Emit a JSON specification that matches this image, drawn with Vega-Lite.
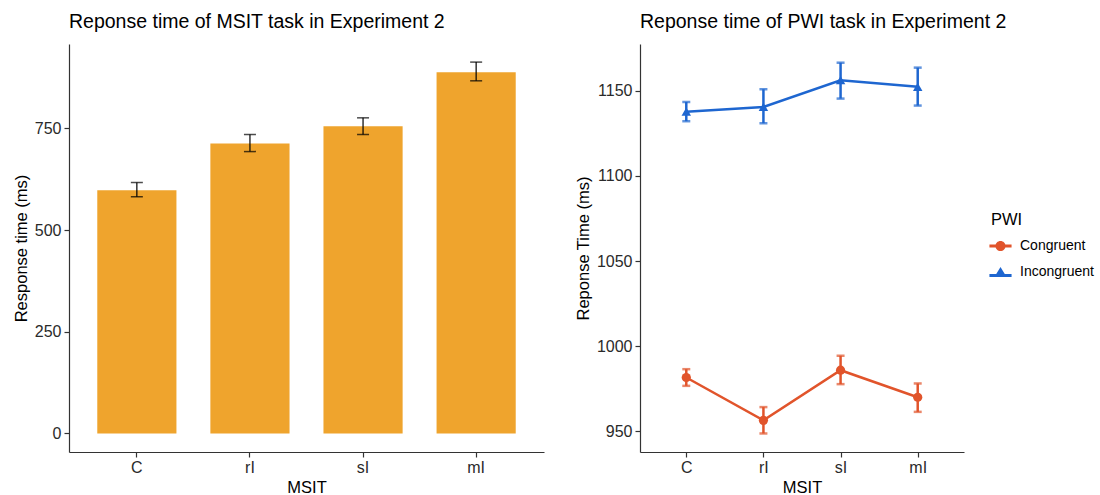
{
  "$schema": "https://vega.github.io/schema/vega-lite/v6.json",
  "padding": {"left": 13, "top": 11, "right": 5, "bottom": 2},
  "spacing": 31,
  "config": {
    "font": "Liberation Sans",
    "view": {"stroke": null},
    "title": {"fontSize": 19.5, "fontWeight": "normal", "anchor": "start", "frame": "group", "color": "black", "offset": 12},
    "axis": {"grid": false, "domainColor": "#333", "domainWidth": 1.2, "tickColor": "#333", "tickSize": 5, "tickWidth": 1.2, "labelFontSize": 16, "labelColor": "#2a2a2a", "titleFontSize": 16.5, "titleFontWeight": "normal", "titleColor": "black", "labelPadding": 3, "titlePadding": 5},
    "axisX": {"labelAngle": 0, "titlePadding": 4, "labelPadding": 2},
    "legend": {"titleFontSize": 16.5, "titleFontWeight": "normal", "titleColor": "black", "labelFontSize": 14, "labelColor": "black", "symbolSize": 340, "symbolOpacity": 1, "symbolStrokeWidth": 0, "rowPadding": 9, "titlePadding": 8, "labelOffset": 10}
  },
  "datasets": {
    "msit": [
      {"MSIT": "C", "rt": 598, "lo": 582, "hi": 617},
      {"MSIT": "rI", "rt": 713, "lo": 693, "hi": 735},
      {"MSIT": "sI", "rt": 755, "lo": 735, "hi": 776},
      {"MSIT": "mI", "rt": 888, "lo": 867, "hi": 913}
    ],
    "pwi": [
      {"MSIT": "C", "PWI": "Congruent", "rt": 981.5, "lo": 976.6, "hi": 986.4},
      {"MSIT": "rI", "PWI": "Congruent", "rt": 956.3, "lo": 948.6, "hi": 964.1},
      {"MSIT": "sI", "PWI": "Congruent", "rt": 985.8, "lo": 977.6, "hi": 994.3},
      {"MSIT": "mI", "PWI": "Congruent", "rt": 969.9, "lo": 961.3, "hi": 978.0},
      {"MSIT": "C", "PWI": "Incongruent", "rt": 1137.8, "lo": 1132.2, "hi": 1143.5},
      {"MSIT": "rI", "PWI": "Incongruent", "rt": 1140.6, "lo": 1131.0, "hi": 1151.0},
      {"MSIT": "sI", "PWI": "Incongruent", "rt": 1156.3, "lo": 1145.5, "hi": 1166.6},
      {"MSIT": "mI", "PWI": "Incongruent", "rt": 1152.4, "lo": 1141.4, "hi": 1163.7}
    ]
  },
  "hconcat": [
    {
      "width": 475,
      "height": 408,
      "title": {"text": "Reponse time of MSIT task in Experiment 2"},
      "data": {"name": "msit"},
      "encoding": {
        "x": {"field": "MSIT", "type": "nominal", "sort": ["C", "rI", "sI", "mI"], "scale": {"paddingInner": 0.3, "paddingOuter": 0.25}, "axis": {"title": "MSIT"}}
      },
      "layer": [
        {
          "mark": {"type": "bar", "color": "#EFA42D"},
          "encoding": {
            "y": {"field": "rt", "type": "quantitative", "scale": {"domain": [-45.5, 957.5], "nice": false, "zero": false}, "axis": {"values": [0, 250, 500, 750], "format": "d", "title": "Response time (ms)"}},
            "y2": {"datum": 0}
          }
        },
        {
          "mark": {"type": "rule", "color": "black", "strokeWidth": 1.2},
          "encoding": {"y": {"field": "lo", "type": "quantitative"}, "y2": {"field": "hi"}}
        },
        {
          "mark": {"type": "tick", "color": "black", "thickness": 1.5, "size": 12},
          "encoding": {"y": {"field": "lo", "type": "quantitative"}}
        },
        {
          "mark": {"type": "tick", "color": "black", "thickness": 1.5, "size": 12},
          "encoding": {"y": {"field": "hi", "type": "quantitative"}}
        }
      ]
    },
    {
      "width": 324,
      "height": 408,
      "title": {"text": "Reponse time of PWI task in Experiment 2"},
      "data": {"name": "pwi"},
      "encoding": {
        "x": {"field": "MSIT", "type": "ordinal", "sort": ["C", "rI", "sI", "mI"], "scale": {"type": "point", "padding": 0.6}, "axis": {"title": "MSIT"}},
        "color": {"field": "PWI", "type": "nominal", "scale": {"domain": ["Congruent", "Incongruent"], "range": ["#E1542B", "#1E66D0"]},
          "legend": {"title": "PWI", "orient": "none", "legendX": 922, "legendY": 168}}
      },
      "layer": [
        {
          "mark": {"type": "line", "strokeWidth": 2.5},
          "encoding": {
            "y": {"field": "rt", "type": "quantitative", "scale": {"domain": [937.7, 1177.6], "nice": false, "zero": false}, "axis": {"values": [950, 1000, 1050, 1100, 1150], "format": "d", "title": "Reponse Time (ms)"}}
          }
        },
        {
          "mark": {"type": "rule", "strokeWidth": 2.5},
          "encoding": {"y": {"field": "lo", "type": "quantitative"}, "y2": {"field": "hi"}}
        },
        {
          "mark": {"type": "tick", "thickness": 2.5, "size": 8},
          "encoding": {"y": {"field": "lo", "type": "quantitative"}}
        },
        {
          "mark": {"type": "tick", "thickness": 2.5, "size": 8},
          "encoding": {"y": {"field": "hi", "type": "quantitative"}}
        },
        {
          "transform": [{"filter": "datum.PWI === 'Congruent'"}],
          "mark": {"type": "point", "shape": "circle", "filled": true, "opacity": 1, "size": 85},
          "encoding": {"y": {"field": "rt", "type": "quantitative"}}
        },
        {
          "transform": [{"filter": "datum.PWI === 'Incongruent'"}],
          "mark": {"type": "point", "shape": "triangle-up", "filled": true, "opacity": 1, "size": 90},
          "encoding": {"y": {"field": "rt", "type": "quantitative"}}
        },
        {
          "transform": [{"filter": "false"}],
          "mark": {"type": "point", "filled": true, "opacity": 1},
          "encoding": {
            "y": {"field": "rt", "type": "quantitative"},
            "shape": {"field": "PWI", "type": "nominal", "scale": {"domain": ["Congruent", "Incongruent"], "range": ["M-1.2,-0.16H1.2V0.16H-1.2Z M0.55,0A0.55,0.55 0 1,1 -0.55,0A0.55,0.55 0 1,1 0.55,0Z", "M-1.2,0.22H1.2V0.54H-1.2Z M0,-0.55L0.66,0.54H-0.66Z"]}, "legend": {"title": "PWI", "orient": "none", "legendX": 922, "legendY": 168}}
          }
        }
      ]
    }
  ]
}
